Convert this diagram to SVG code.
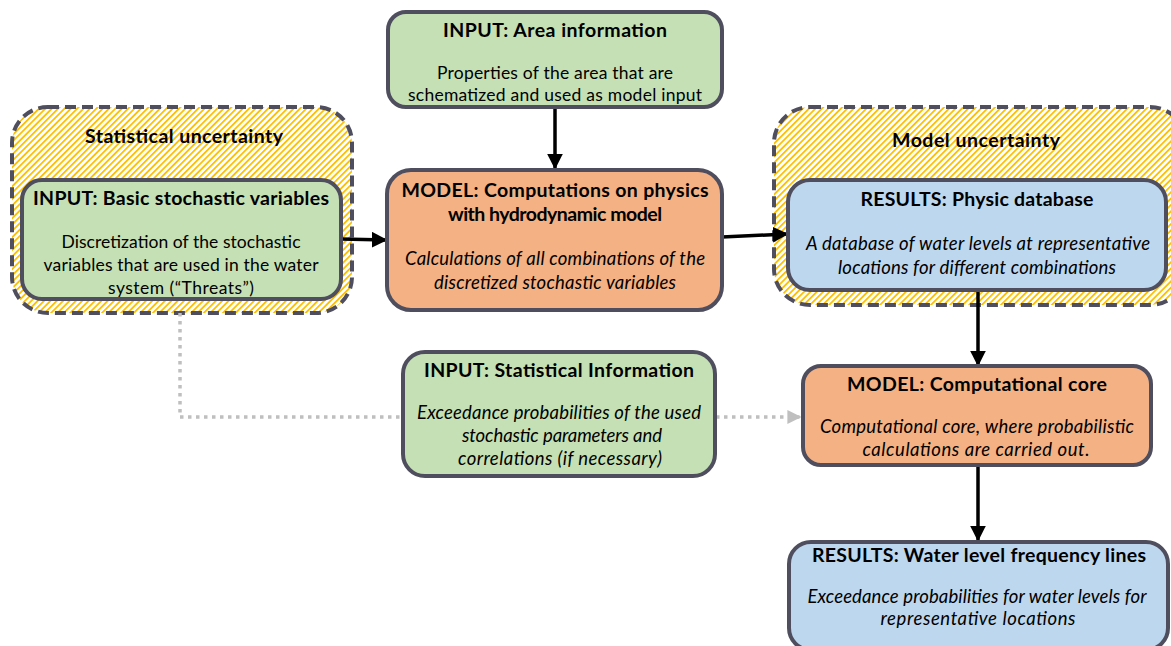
<svg xmlns="http://www.w3.org/2000/svg" width="1171" height="646" viewBox="0 0 1171 646">
<defs>
<pattern id="hatch" patternUnits="userSpaceOnUse" width="4.5" height="4.5" patternTransform="rotate(45)">
<rect width="4.5" height="4.5" fill="#ffffff"/>
<rect x="0" y="0" width="1.8" height="4.5" fill="#ffc000"/>
</pattern>
<marker id="arr" viewBox="0 0 10 10" refX="9" refY="5" markerWidth="4.5" markerHeight="4.5" orient="auto" markerUnits="strokeWidth">
<path d="M0,0 L10,5 L0,10 z" fill="#000"/>
</marker>
<marker id="arrg" viewBox="0 0 10 10" refX="9" refY="5" markerWidth="4" markerHeight="4" orient="auto" markerUnits="strokeWidth">
<path d="M0,0 L10,5 L0,10 z" fill="#bfbfbf"/>
</marker>
<style>
.grp{fill:url(#hatch);stroke:#4e4e5e;stroke-width:4;stroke-dasharray:11 6}
.box{stroke:#4e4e5e;stroke-width:4}
.g{fill:#c5e0b4}.o{fill:#f4b183}.b{fill:#bdd7ee}
text{font-family:Lato,"Liberation Sans",sans-serif;fill:#000;text-anchor:middle}
.t{font-weight:bold;font-size:19.5px}
.s{font-size:17.5px}
.i{font-size:18.5px;font-style:italic}
.c{stroke:#000;stroke-width:3.5;fill:none}
.d{stroke:#bfbfbf;stroke-width:3.5;fill:none;stroke-dasharray:3.5 4.5}
</style>
</defs>
<g id="statistical-uncertainty">
<rect class="grp" x="12" y="107" width="340" height="206" rx="36"/>
<text class="t" x="184" y="143" textLength="198" lengthAdjust="spacing">Statistical uncertainty</text>
</g>
<g id="model-uncertainty">
<rect class="grp" x="774" y="107" width="412" height="198" rx="36"/>
<text class="t" x="976" y="147" textLength="168" lengthAdjust="spacing">Model uncertainty</text>
</g>
<g id="connectors">
<line class="c" x1="555" y1="107" x2="555" y2="168" marker-end="url(#arr)"/>
<line class="c" x1="341" y1="239" x2="386" y2="240" marker-end="url(#arr)"/>
<line class="c" x1="722" y1="237" x2="787" y2="234" marker-end="url(#arr)"/>
<line class="c" x1="978" y1="290" x2="978" y2="365" marker-end="url(#arr)"/>
<line class="c" x1="978" y1="465" x2="978" y2="540" marker-end="url(#arr)"/>
<polyline class="d" points="180,313 180,417 403,417"/>
<line class="d" x1="716" y1="417" x2="800" y2="417" marker-end="url(#arrg)"/>
</g>
<g id="basic-stochastic">
<rect class="box g" x="22" y="180" width="319" height="119" rx="20"/>
<text class="t" x="181" y="205" textLength="296" lengthAdjust="spacing">INPUT: Basic stochastic variables</text>
<text class="s" x="181" y="248" textLength="239" lengthAdjust="spacing">Discretization of the stochastic</text>
<text class="s" x="181" y="271" textLength="275" lengthAdjust="spacing">variables that are used in the water</text>
<text class="s" x="181" y="294" textLength="146" lengthAdjust="spacing">system (“Threats”)</text>
</g>
<g id="area-information">
<rect class="box g" x="388" y="12" width="334" height="95" rx="18"/>
<text class="t" x="555" y="37" textLength="224" lengthAdjust="spacing">INPUT: Area information</text>
<text class="s" x="555" y="79" textLength="236" lengthAdjust="spacing">Properties of the area that are</text>
<text class="s" x="555" y="101" textLength="294" lengthAdjust="spacing">schematized and used as model input</text>
</g>
<g id="model-computations">
<rect class="box o" x="387" y="170" width="335" height="140" rx="24"/>
<text class="t" x="555" y="197" textLength="307" lengthAdjust="spacing">MODEL: Computations on physics</text>
<text class="t" x="555" y="221" textLength="214" lengthAdjust="spacing">with hydrodynamic model</text>
<text class="i" x="555" y="265" textLength="300" lengthAdjust="spacing">Calculations of all combinations of the</text>
<text class="i" x="555" y="289" textLength="242" lengthAdjust="spacing">discretized stochastic variables</text>
</g>
<g id="physic-database">
<rect class="box b" x="788" y="180" width="378" height="110" rx="22"/>
<text class="t" x="977" y="206" textLength="233" lengthAdjust="spacing">RESULTS: Physic database</text>
<text class="i" x="978" y="250" textLength="344" lengthAdjust="spacing">A database of water levels at representative</text>
<text class="i" x="977" y="274" textLength="278" lengthAdjust="spacing">locations for different combinations</text>
</g>
<g id="statistical-information">
<rect class="box g" x="403" y="352" width="312" height="124" rx="22"/>
<text class="t" x="559" y="377" textLength="270" lengthAdjust="spacing">INPUT: Statistical Information</text>
<text class="i" x="559" y="419" textLength="284" lengthAdjust="spacing">Exceedance probabilities of the used</text>
<text class="i" x="562" y="442" textLength="200" lengthAdjust="spacing">stochastic parameters and</text>
<text class="i" x="560" y="465" textLength="204" lengthAdjust="spacing">correlations (if necessary)</text>
</g>
<g id="computational-core">
<rect class="box o" x="803" y="366" width="348" height="99" rx="18"/>
<text class="t" x="977" y="391" textLength="260" lengthAdjust="spacing">MODEL: Computational core</text>
<text class="i" x="977" y="433" textLength="314" lengthAdjust="spacing">Computational core, where probabilistic</text>
<text class="i" x="976" y="456" textLength="227" lengthAdjust="spacing">calculations are carried out.</text>
</g>
<g id="water-level">
<rect class="box b" x="789" y="542" width="379" height="108" rx="22"/>
<text class="t" x="979" y="562" textLength="334" lengthAdjust="spacing">RESULTS: Water level frequency lines</text>
<text class="i" x="977" y="603" textLength="339" lengthAdjust="spacing">Exceedance probabilities for water levels for</text>
<text class="i" x="978" y="625" textLength="195" lengthAdjust="spacing">representative locations</text>
</g>
</svg>
